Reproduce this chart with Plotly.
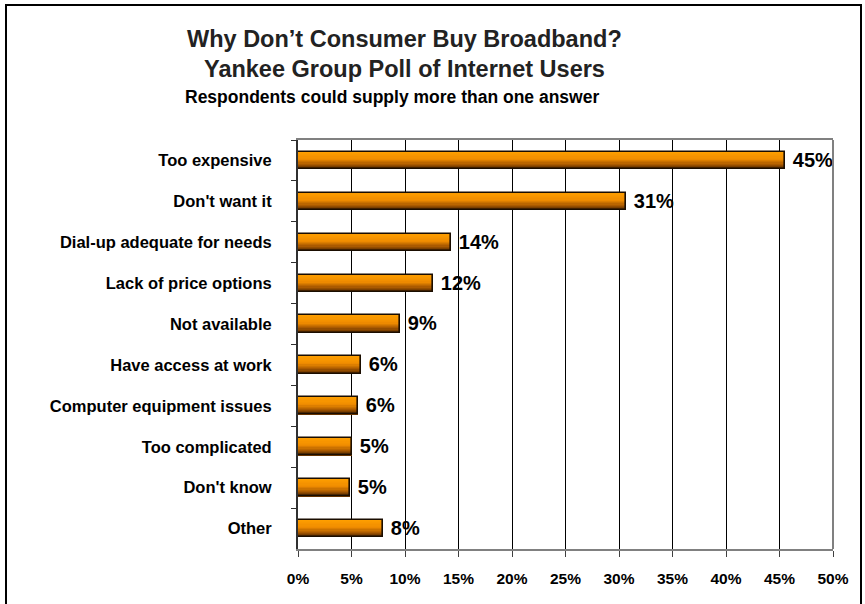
import plotly.graph_objects as go

categories = ["Too expensive", "Don't want it", "Dial-up adequate for needs",
              "Lack of price options", "Not available", "Have access at work",
              "Computer equipment issues", "Too complicated", "Don't know", "Other"]
values = [45.5, 30.7, 14.3, 12.6, 9.5, 5.9, 5.6, 5.0, 4.9, 7.9]
value_labels = ["45%", "31%", "14%", "12%", "9%", "6%", "6%", "5%", "5%", "8%"]
x_ticks = [0, 5, 10, 15, 20, 25, 30, 35, 40, 45, 50]
x_tick_labels = [f"{t}%" for t in x_ticks]

FONT = "Liberation Sans, Arial, sans-serif"
BAR_W = 0.42
N_STRIPS = 14

def lerp(c1, c2, t):
    return tuple(round(a + (b - a) * t) for a, b in zip(c1, c2))

stops = [(0.0, (255, 160, 0)), (0.45, (240, 140, 0)), (0.75, (170, 90, 0)), (1.0, (90, 45, 0))]

def grad(t):
    for (t0, c0), (t1, c1) in zip(stops, stops[1:]):
        if t <= t1:
            return "rgb(%d,%d,%d)" % lerp(c0, c1, (t - t0) / (t1 - t0))
    return "rgb(%d,%d,%d)" % stops[-1][1]

fig = go.Figure()
sw = BAR_W / N_STRIPS
for i in range(N_STRIPS):
    fig.add_trace(go.Bar(
        y=categories, x=values, orientation="h",
        width=sw * 1.25, offset=-BAR_W / 2 + i * sw,
        marker=dict(color=grad((i + 0.5) / N_STRIPS), line=dict(width=0)),
        showlegend=False, hoverinfo="skip",
    ))

fig.add_trace(go.Bar(
    y=categories, x=values, orientation="h",
    width=BAR_W, offset=-BAR_W / 2,
    marker=dict(color="rgba(0,0,0,0)", line=dict(color="#1a0d00", width=1.6)),
    text=value_labels, texttemplate="\u00a0%{text}", textposition="outside",
    cliponaxis=False, constraintext="none",
    textfont=dict(family=FONT, size=20, color="black", weight="bold"),
    showlegend=False,
))

fig.update_layout(
    width=865, height=604,
    margin=dict(l=298, r=32, t=140, b=55),
    paper_bgcolor="white", plot_bgcolor="white",
    barmode="overlay", bargap=0,
    font=dict(family=FONT, color="black"),
    xaxis=dict(
        range=[0, 50], tickvals=x_ticks, ticktext=x_tick_labels,
        showgrid=True, gridcolor="black", gridwidth=1,
        showline=True, linecolor="#808080", linewidth=2, mirror=True,
        ticks="outside", ticklen=6, tickcolor="#404040",
        tickfont=dict(family=FONT, size=15.5, color="black", weight="bold"),
        ticklabelstandoff=8,
        zeroline=False, fixedrange=True,
    ),
    yaxis=dict(
        autorange="reversed", categoryorder="array", categoryarray=categories,
        showline=True, linecolor="#303030", linewidth=2,
        ticks="outside", ticklen=5, tickcolor="#303030", tickson="boundaries",
        tickfont=dict(family=FONT, size=16.5, color="black", weight="bold"),
        ticklabelstandoff=21,
        showgrid=False, zeroline=False,
    ),
    shapes=[
        dict(type="line", xref="paper", yref="paper", x0=1, x1=1, y0=0, y1=1,
             line=dict(color="#808080", width=2)),
        dict(type="rect", xref="paper", yref="paper",
             x0=(6 - 298) / 535, x1=(861 - 298) / 535,
             y0=-0.3, y1=(549 - 5) / 409,
             line=dict(color="black", width=2), fillcolor="rgba(0,0,0,0)"),
    ],
    annotations=[
        dict(text="<b>Why Don’t Consumer Buy Broadband?</b>", xref="paper", yref="paper",
             x=(404 - 298) / 535, y=(549 - 39) / 409, xanchor="center", yanchor="middle",
             showarrow=False, font=dict(family=FONT, size=23.5, color="#222")),
        dict(text="<b>Yankee Group Poll of Internet Users</b>", xref="paper", yref="paper",
             x=(404 - 298) / 535, y=(549 - 69) / 409, xanchor="center", yanchor="middle",
             showarrow=False, font=dict(family=FONT, size=23.5, color="#222")),
        dict(text="<b>Respondents could supply more than one answer</b>", xref="paper", yref="paper",
             x=(392 - 298) / 535, y=(549 - 97) / 409, xanchor="center", yanchor="middle",
             showarrow=False, font=dict(family=FONT, size=17.5, color="black")),
    ],
)

fig.write_html("out.html")
